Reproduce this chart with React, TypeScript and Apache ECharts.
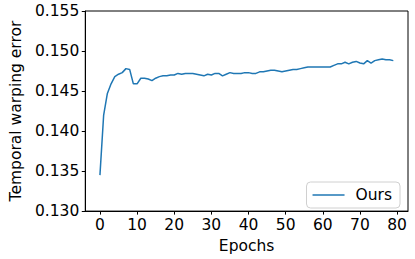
import React, { useEffect, useRef } from "react";
import * as echarts from "echarts";

const epochs: number[] = Array.from({ length: 80 }, (_, i) => i);
const warpError: number[] = [
  0.1345, 0.1420, 0.1447, 0.1459, 0.1468, 0.1471, 0.1473, 0.1478, 0.1477, 0.1459,
  0.1459, 0.1466, 0.1466, 0.1465, 0.1463, 0.1466, 0.1468, 0.1469, 0.1469, 0.1470,
  0.1470, 0.1472, 0.1471, 0.1472, 0.1472, 0.1472, 0.1471, 0.1470, 0.1469, 0.1471,
  0.1470, 0.1472, 0.1472, 0.1469, 0.1471, 0.1473, 0.1472, 0.1472, 0.1472, 0.1473,
  0.1473, 0.1472, 0.1472, 0.1474, 0.1474, 0.1475, 0.1476, 0.1476, 0.1475, 0.1474,
  0.1475, 0.1476, 0.1477, 0.1477, 0.1478, 0.1479, 0.1480, 0.1480, 0.1480, 0.1480,
  0.1480, 0.1480, 0.1480, 0.1482, 0.1484, 0.1484, 0.1486, 0.1484, 0.1486, 0.1487,
  0.1485, 0.1484, 0.1488, 0.1485, 0.1488, 0.1489, 0.1490, 0.1489, 0.1489, 0.1488,
];
const xTicks: number[] = [0, 10, 20, 30, 40, 50, 60, 70, 80];
const seriesName = "Ours";
const xTitle = "Epochs";
const yTitle = "Temporal warping error";

export default function App() {
  const ref = useRef<HTMLDivElement>(null);
  useEffect(() => {
    if (!ref.current) return;
    const chart = echarts.init(ref.current, undefined, { renderer: "svg" });
    const font = "'DejaVu Sans', sans-serif";
    const fs = 15.5;
    chart.setOption({
      animation: false,
      textStyle: { fontFamily: font },
      grid: {
        left: 71,
        top: 11,
        right: 7,
        bottom: 44,
        show: true,
        borderColor: "#000",
        borderWidth: 1,
        backgroundColor: "transparent",
      },
      legend: {
        right: 15,
        bottom: 51,
        padding: [5, 8, 5, 6],
        borderColor: "#d0d0d0",
        borderWidth: 1,
        borderRadius: 4,
        itemWidth: 32,
        itemHeight: 14,
        textStyle: { fontSize: fs, color: "#000", fontFamily: font, padding: [0, 0, 0, 6] },
        data: [{ name: seriesName, icon: "path://M0,0 L32,0 L32,1.5 L0,1.5 Z" }],
      },
      xAxis: {
        type: "value",
        min: -3.95,
        max: 82.95,
        name: xTitle,
        nameLocation: "middle",
        nameGap: 24,
        nameTextStyle: { fontSize: fs, color: "#000", fontFamily: font },
        axisLine: { show: true, onZero: false, lineStyle: { color: "#000", width: 1 } },
        axisTick: { show: true, length: 3.5, lineStyle: { color: "#000" }, customValues: xTicks },
        axisLabel: { fontSize: fs, color: "#000", margin: 6, customValues: xTicks, fontFamily: font },
        splitLine: { show: false },
      },
      yAxis: {
        type: "value",
        min: 0.13,
        max: 0.155,
        interval: 0.005,
        name: yTitle,
        nameLocation: "middle",
        nameGap: 60,
        nameTextStyle: { fontSize: fs, color: "#000", fontFamily: font },
        axisLine: { show: true, onZero: false, lineStyle: { color: "#000", width: 1 } },
        axisTick: { show: true, length: 3.5, lineStyle: { color: "#000" } },
        axisLabel: {
          fontSize: fs,
          color: "#000",
          margin: 6,
          fontFamily: font,
          formatter: (v: number) => v.toFixed(3),
        },
        splitLine: { show: false },
      },
      series: [
        {
          name: seriesName,
          type: "line",
          symbol: "none",
          data: epochs.map((e, i) => [e, warpError[i]]),
          lineStyle: { color: "#1f77b4", width: 1.5 },
          itemStyle: { color: "#1f77b4" },
        },
      ],
    });
    return () => chart.dispose();
  }, []);
  return (
    <div
      ref={ref}
      style={{ position: "fixed", left: 0, top: 0, width: 415, height: 259, background: "#fff" }}
    />
  );
}
